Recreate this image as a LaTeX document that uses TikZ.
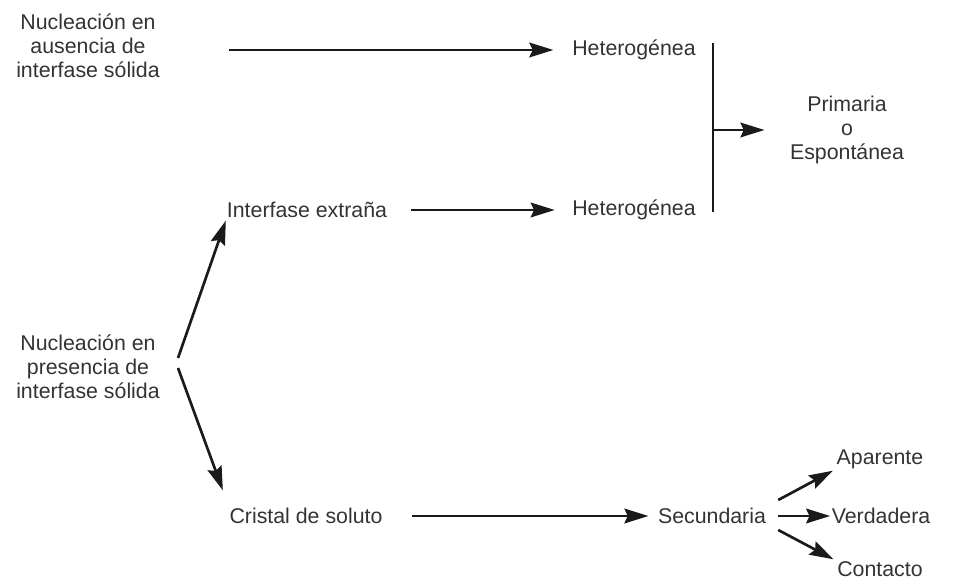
\documentclass[tikz,border=0pt]{standalone}
\usepackage{fontspec}
\setmainfont{Liberation Sans}
\usepackage{xcolor}
\usetikzlibrary{positioning,arrows.meta}
\definecolor{texto}{HTML}{333333}
\definecolor{trazo}{HTML}{1A1A1A}

\begin{document}
\begin{tikzpicture}[x=0.75pt,y=-0.75pt,
    every node/.style={align=center,inner sep=0pt,text=texto,
      font=\fontsize{16}{18}\selectfont},
    flecha/.style={draw=trazo,line width=2pt,
      -{Stealth[length=18pt,width=11pt,inset=2.5pt]}}]
    \useasboundingbox (0,0) rectangle (957,580);
    % nucleacion primaria
    \node (ausencia) at (88,46) {Nucleación en\\ausencia de\\interfase sólida};
    \node (hetA) at (634,50) {Heterogénea};
    \node (interfase) at (307,210) {Interfase extraña};
    \node (hetB) at (634,210) {Heterogénea};
    \node (primaria) at (847,130) {Primaria\\o\\Espontánea};
    \coordinate (barraA) at (713,43);
    \coordinate (barraB) at (713,212);
    \coordinate (barraM) at (713,130);
    % nucleacion secundaria
    \node (presencia) at (88,367) {Nucleación en\\presencia de\\interfase sólida};
    \node (cristal) at (306,516) {Cristal de soluto};
    \node (secundaria) at (712,516) {Secundaria};
    \node (aparente) at (880,459) {Aparente};
    \node (verdadera) at (881,516) {Verdadera};
    \node (contacto) at (880,569) {Contacto};

    \draw[flecha,shorten <=52pt,shorten >=14pt] (ausencia.east |- hetA) -- (hetA);
    \draw[flecha,shorten <=18pt,shorten >=13pt] (interfase) -- (hetB);
    \draw[draw=trazo,line width=2pt] (barraA) -- (barraB);
    \draw[flecha,shorten >=19pt] (barraM) -- (primaria);
    \draw[flecha,shorten >=2pt] ([shift={(18,-9)}]presencia.east) -- (interfase.south west);
    \draw[flecha,shorten >=14pt] ([shift={(18,1)}]presencia.east) -- (cristal.north west);
    \draw[flecha,shorten <=22pt,shorten >=7pt] (cristal) -- (secundaria);
    \draw[flecha,shorten >=3pt] ([shift={(12,-16)}]secundaria.east) -- (aparente.south west);
    \draw[flecha,shorten <=9pt,shorten >=1pt] (secundaria) -- (verdadera);
    \draw[flecha,shorten >=3pt] ([shift={(12,14)}]secundaria.east) -- (contacto.north west);
  \end{tikzpicture}
\end{document}
